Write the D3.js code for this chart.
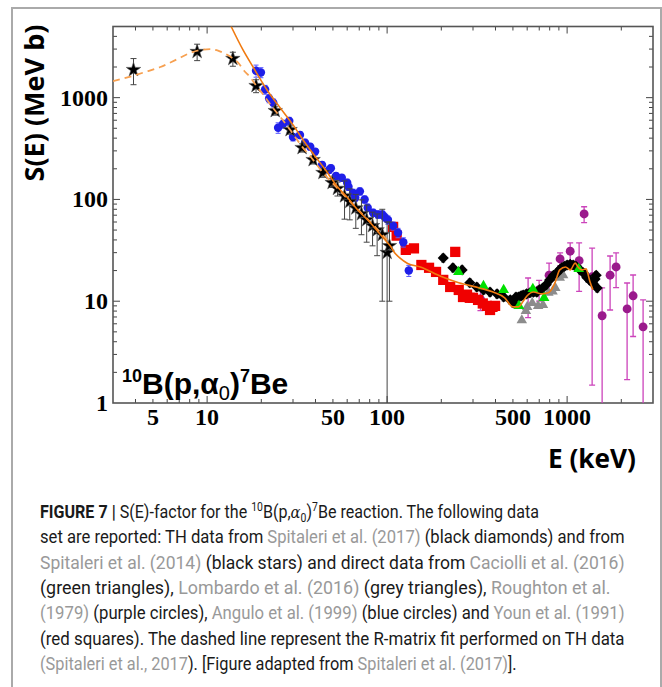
<!DOCTYPE html>
<html><head><meta charset="utf-8">
<script src="https://cdn.jsdelivr.net/npm/d3@7"></script>
<style>body{margin:0;background:#fff}svg{display:block}</style>
</head><body>
<svg id="chart" width="662" height="687"></svg>
<script>
// [E keV, S MeV b, dS]
var starsTH2014 = [[3.9,1880,540],[8.8,2830,520],[13.9,2414,380],[18.7,1309,190],[23.9,743,70],[28.9,483,45],
  [33.7,322,30],[38.8,245,22],[44,183,18],[49.5,146,15],[53,128,20],[58,108,44],[62,95,32],[67,82,30],[72,72,27],
  [77,63,25],[83,55,20],[88,50,22],[94,45,35],[100,30,30],[103,35,25]];
var blueAngulo = [[18.7,1838,250],[19.9,1770,200],[21,1200,120],[22.1,980,90],[23.3,890,80],[24.8,506,60],
  [26.4,550,50],[28.6,590,50],[30,410,35],[32.8,430,35],[35,360,30],[37.4,330,25],[39.8,295,22],[43.5,218,18],
  [48.7,203,15],[47.6,195,15],[52,170,12],[56,163,12],[60,146,12],[61,133,10],[64.7,116,10],[66.5,104,9],
  [70.6,120,10],[75,100,8],[78,83,7],[83.6,74,6],[89,71,6],[94,71,6],[97,67,6],[101,63,6],[108,55,5],
  [115,47,5],[123,38,4],[132,20,2.5]];
var redYoun = [[108,53.7],[113,44],[127,32],[141,33],[155,22.7],[171,21.3],[187,19.4],[205,16.2],[224,13.8],
  [239,30.5],[250,12.9],[264,11.0],[278,11.6],[288,10.8],[300,10.8],[320,10.3],[340,9.5],[358,9.0],[373,8.2],
  [385,8.8],[398,9.0]];
var diamondsTH2017 = [[205,26.6],[232,21.3],[261,20.3],[288,15.2],[315,13.8],[343,12.9],[373,12.3],[408,11.8],
  [444,11.0],[483,10.3],[502,9.6],[520,11],[537,11.0],[555,11.3],[570,11.5],[595,11.8],[621,12.1],[650,12.3],
  [679,12.3],[705,13],[734,13.5],[765,14.5],[800,16.2],[840,18],[880,19.0],[910,20.5],[935,21.3],[965,22],
  [1000,22.7],[1040,23],[1080,22.7],[1120,22],[1180,20.3],[1230,19],[1290,17],[1340,16],[1390,15],[1430,16.5],
  [1450,18],[1470,13.5]];
var greenCaciolli = [[249,19.4],[343,14.1],[444,12.9],[540,9.0],[645,13.2],[745,10.8],[1160,20.8]];
var greyLombardo = [[560,6.5],[590,8.0],[600,8.8],[640,9.6],[690,9.0],[734,9.2],[787,12.1],[830,12.5],
  [860,13.5],[910,17],[950,18]];
var purpleRoughton = [[330,10.5,2.4],[607,11.9,5],[699,13,3],[794,18,5.7],[914,26,3.8],[1040,31,6.5],
  [1166,25,12.5],[1243,72,12.7],[1377,17.4,15.9],[1565,7.2,6.3],[1733,18,9.8],[1871,21.7,8.1],
  [2154,8.4,6.7],[2326,11.3,6.8],[2643,5.6,4.7]];
var fitSolid = [[13.6,5000],[15.8,2960],[18,2000],[21.8,1150],[25,830],[30,540],[35,360],[40,262],[45,200],
  [52.7,135],[60,105],[70,76],[80,60],[90,47],[100,38],[104,35],[110,30],[118,26.5],[130,23.5],[153,21.7],
  [200,17.5],[250,15.2],[326,13.5],[388,12.3],[450,10.8],[500,8.8],[537,8.8],[570,10],[600,11.3],[650,12.3],
  [725,11.8],[787,12.1],[830,13.5],[860,15.5],[910,20.3],[980,21.7],[1040,20.3],[1110,23.7],[1140,22.2],
  [1210,20.3],[1275,20.8],[1300,19],[1340,15.5],[1390,13]];
var fitDashed = [[3,1450],[3.7,1600],[4.5,1780],[5.5,2000],[6.7,2350],[8.1,2760],[9.3,2950],[10.4,3000],
  [11.5,2900],[12.6,2700],[13.8,2450],[14.9,2200],[16,1850],[17.4,1580],[18.7,1320],[20.2,1110],[22,900],
  [23.9,743],[26,620],[28.9,483],[33.7,330],[38.8,245],[44,183],[49.5,146],[60,102],[70,77],[80,61],[90,49],[100,40]];

var xLabels = [5, 10, 50, 100, 500, 1000];
var yLabels = [1, 10, 100, 1000];

var captionLines = [
  [["FIGURE 7 |","b"],[" S(E)-factor for the ","n"],["10","sup"],["B(p,","n"],["α","i"],["0","sub"],[")","n"],["7","sup"],["Be reaction. The following data","n"]],
  [["set are reported: TH data from ","n"],["Spitaleri et al. (2017)","g"],[" (black diamonds) and from","n"]],
  [["Spitaleri et al. (2014)","g"],[" (black stars) and direct data from ","n"],["Caciolli et al. (2016)","g"]],
  [["(green triangles), ","n"],["Lombardo et al. (2016)","g"],[" (grey triangles), ","n"],["Roughton et al.","g"]],
  [["(1979)","g"],[" (purple circles), ","n"],["Angulo et al. (1999)","g"],[" (blue circles) and ","n"],["Youn et al. (1991)","g"]],
  [["(red squares). The dashed line represent the R-matrix fit performed on TH data","n"]],
  [["(Spitaleri et al., 2017","g"],["). [Figure adapted from ","n"],["Spitaleri et al. (2017)","g"],["].","n"]]
];
var captionEnds = [539, 625, 625, 611, 625, 625, 517];

var svg = d3.select("#chart");
svg.append("rect").attr("width", 662).attr("height", 687).attr("fill", "#fff");
svg.append("rect").attr("x", 12).attr("y", 8).attr("width", 649).attr("height", 700)
  .attr("fill", "none").attr("stroke", "#aaa").attr("stroke-width", 2);

var x = d3.scaleLog().domain([3, 3000]).range([113, 653]);
var y = d3.scaleLog().domain([1, 5000]).range([403, 26.5]);
var L = 113, R = 653, T = 26.5, B = 403;

svg.append("clipPath").attr("id", "clip").append("rect")
  .attr("x", L).attr("y", T).attr("width", R - L).attr("height", B - T);

// ticks, inside on all four sides
var isMajor = function(v) { var l = Math.log10(v); return Math.abs(l - Math.round(l)) < 1e-6; };
var axes = svg.append("g").attr("stroke", "#444").attr("stroke-width", 1);
x.ticks().forEach(function(v) {
  var px = x(v), len = isMajor(v) ? 7 : 4;
  if (px <= L + 0.5 || px >= R - 0.5) return;
  axes.append("line").attr("x1", px).attr("x2", px).attr("y1", B).attr("y2", B - len);
  axes.append("line").attr("x1", px).attr("x2", px).attr("y1", T).attr("y2", T + len);
});
y.ticks().forEach(function(v) {
  var py = y(v), len = isMajor(v) ? 7 : 4;
  if (py >= B - 0.5 || py <= T + 0.5) return;
  axes.append("line").attr("x1", L).attr("x2", L + len).attr("y1", py).attr("y2", py);
  axes.append("line").attr("x1", R).attr("x2", R - len).attr("y1", py).attr("y2", py);
});
svg.append("rect").attr("x", L).attr("y", T).attr("width", R - L).attr("height", B - T)
  .attr("fill", "none").attr("stroke", "#555").attr("stroke-width", 1.6);

var serif = "'Liberation Serif','Times New Roman',serif";
svg.append("g").selectAll("text").data(xLabels).enter().append("text")
  .attr("x", function(d) { return x(d); }).attr("y", 425)
  .attr("text-anchor", "middle").attr("font-family", serif).attr("font-weight", "bold")
  .attr("font-size", 24).text(function(d) { return d; });
svg.append("g").selectAll("text").data(yLabels).enter().append("text")
  .attr("x", 108).attr("y", function(d) { return y(d) + 8; })
  .attr("text-anchor", "end").attr("font-family", serif).attr("font-weight", "bold")
  .attr("font-size", 24).text(function(d) { return d; });

var sans = "'Open Sans','Liberation Sans',sans-serif";
svg.append("text").attr("transform", "translate(44,103) rotate(-90)")
  .attr("text-anchor", "middle").attr("font-family", sans).attr("font-weight", "bold")
  .attr("font-size", 27).attr("textLength", 157).attr("lengthAdjust", "spacingAndGlyphs")
  .text("S(E) (MeV b)");
svg.append("text").attr("x", 548).attr("y", 468)
  .attr("font-family", sans).attr("font-weight", "bold")
  .attr("font-size", 27).attr("textLength", 88).attr("lengthAdjust", "spacingAndGlyphs")
  .text("E (keV)");

// reaction label inside the plot
var lab = svg.append("text").attr("x", 122).attr("y", 394)
  .attr("font-family", "'Liberation Sans',Arial,sans-serif").attr("font-weight", "bold").attr("font-size", 30);
lab.append("tspan").attr("font-size", 18).attr("dy", -12).text("10");
lab.append("tspan").attr("dy", 12).text("B(p,α");
lab.append("tspan").attr("font-size", 20).attr("font-weight", "normal").attr("dy", 6).text("0");
lab.append("tspan").attr("dy", -6).text(")");
lab.append("tspan").attr("font-size", 18).attr("dy", -12).text("7");
lab.append("tspan").attr("dy", 12).text("Be");

var plot = svg.append("g").attr("clip-path", "url(#clip)");

function errBars(data, color, cap, width) {
  plot.append("g").attr("stroke", color).attr("stroke-width", width).attr("fill", "none")
    .selectAll("path").data(data).enter().append("path")
    .attr("d", function(d) {
      var px = x(d[0]), lo = y(Math.max(d[1] - d[2], 0.3)), hi = y(d[1] + d[2]);
      return "M" + (px - cap) + "," + hi + "H" + (px + cap) + "M" + px + "," + hi + "V" + lo +
        "M" + (px - cap) + "," + lo + "H" + (px + cap);
    });
}
function marks(data, type, size, fill, stroke, rot) {
  plot.append("g").selectAll("path").data(data).enter().append("path")
    .attr("d", d3.symbol().type(type).size(size))
    .attr("transform", function(d) { return "translate(" + x(d[0]) + "," + y(d[1]) + ")" + (rot ? " rotate(" + rot + ")" : ""); })
    .attr("fill", fill).attr("stroke", stroke || "none").attr("stroke-width", 0.6);
}

// purple (Roughton)
errBars(purpleRoughton, "#cc44bb", 3, 1.3);
marks(purpleRoughton, d3.symbolCircle, 62, "#9a1a8c");
// red squares (Youn)
marks(redYoun, d3.symbolSquare, 105, "#f00000");
// blue (Angulo)
errBars(blueAngulo, "#5a5aff", 2.5, 1);
marks(blueAngulo, d3.symbolCircle, 56, "#1f1fe8");
// grey triangles (Lombardo)
marks(greyLombardo, d3.symbolTriangle, 48, "#8c8c8c");
// black diamonds (TH 2017)
errBars(diamondsTH2017.map(function(d) { return [d[0], d[1], d[1] * 0.09]; }), "#555", 2, 0.9);
marks(diamondsTH2017, d3.symbolSquare, 62, "#000", null, 45);
// green triangles (Caciolli)
marks(greenCaciolli, d3.symbolTriangle, 50, "#00e000");
// black stars (TH 2014)
errBars(starsTH2014, "#444", 3, 1);
marks(starsTH2014, d3.symbolStar, 65, "#000", "#555");

var line = d3.line().curve(d3.curveMonotoneX)
  .x(function(d) { return x(d[0]); }).y(function(d) { return y(d[1]); });
plot.append("path").datum(fitDashed).attr("d", line).attr("fill", "none")
  .attr("stroke", "#f7a050").attr("stroke-width", 1.8).attr("stroke-dasharray", "7,5");
plot.append("path").datum(fitSolid).attr("d", line).attr("fill", "none")
  .attr("stroke", "#f07a10").attr("stroke-width", 1.6);

// caption
var capFont = "Roboto,'Liberation Sans',sans-serif";
captionLines.forEach(function(segs, i) {
  var g = svg.append("g");
  var t = g.append("text").attr("font-family", capFont).attr("font-size", 18.5).attr("fill", "#1a1a1a");
  var shift = 0;
  segs.forEach(function(s) {
    var ts = t.append("tspan").text(s[0]);
    var dy = 0;
    if (s[1] == "b") ts.attr("font-weight", "bold");
    if (s[1] == "g") ts.attr("fill", "#999");
    if (s[1] == "i") ts.attr("font-style", "italic").attr("font-family", "'DejaVu Serif',serif").attr("font-size", 17);
    if (s[1] == "sup") { ts.attr("font-size", 12); dy = -7; }
    if (s[1] == "sub") { ts.attr("font-size", 12); dy = 4; }
    ts.attr("dy", dy - shift);
    shift = dy;
  });
  var w = t.node().getComputedTextLength();
  var sx = (captionEnds[i] - 40) / w;
  g.attr("transform", "translate(40," + (518 + i * 25.3) + ") scale(" + sx + ",1)");
});
</script>
</body></html>
